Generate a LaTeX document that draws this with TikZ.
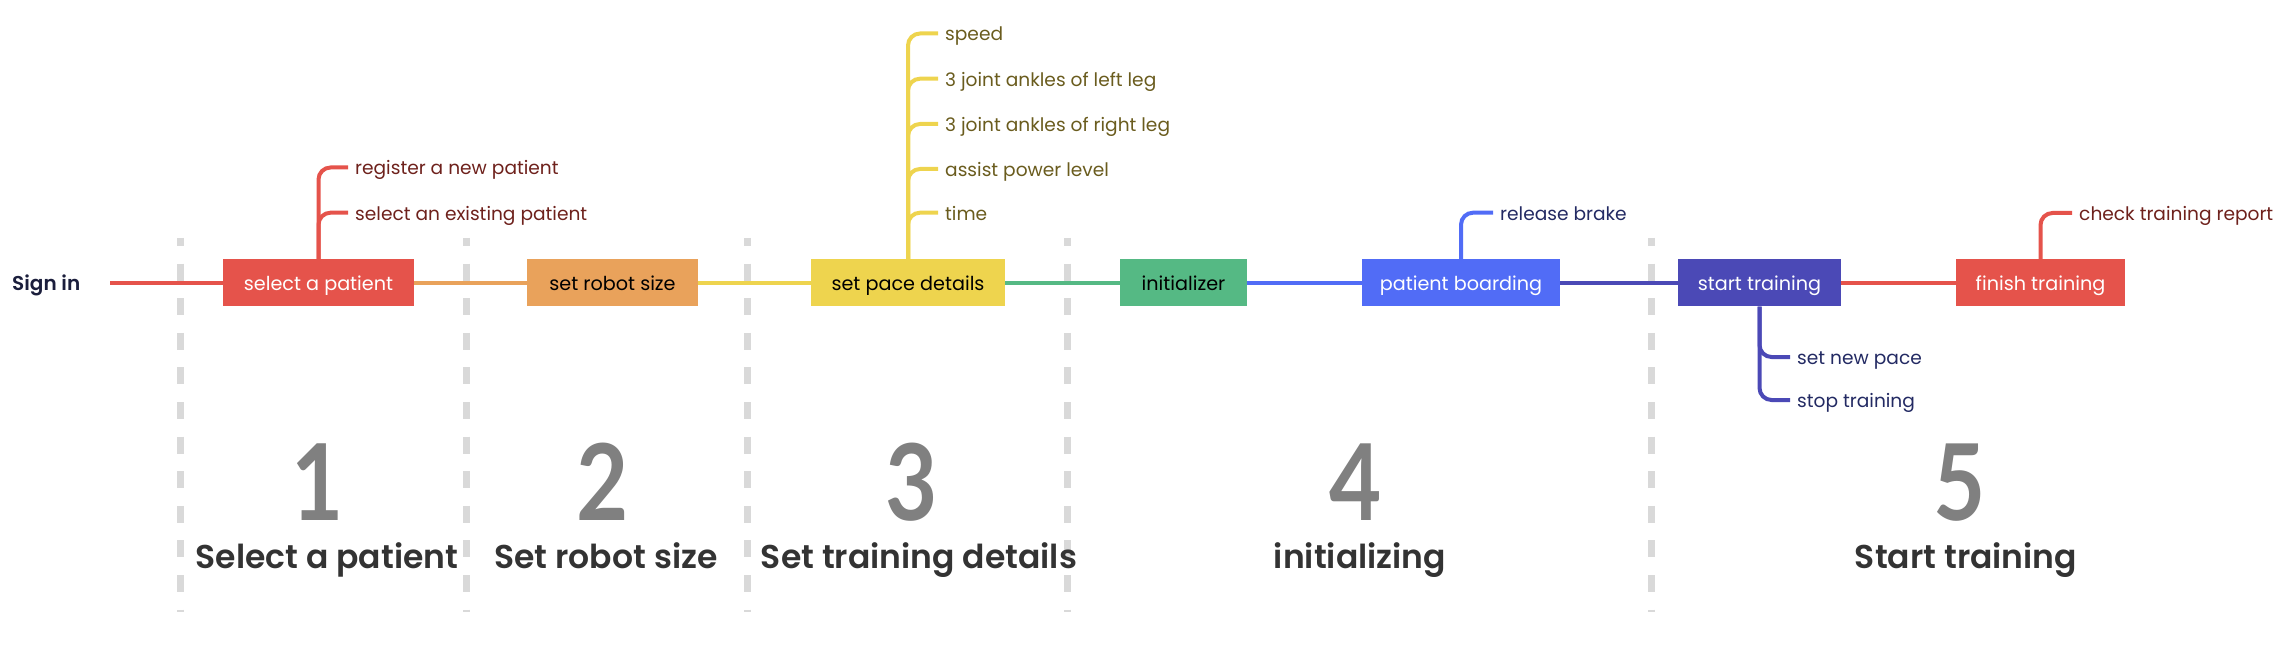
\documentclass[tikz,border=0pt]{standalone}
\usepackage{fontspec}
\setmainfont{Poppins}
\newfontfamily\semib{Poppins}[UprightFont=* SemiBold]
\newfontfamily\numfont{Lato}[UprightFont=* Bold]
\definecolor{cred}{HTML}{E5534B}
\definecolor{corange}{HTML}{E9A25B}
\definecolor{cyellow}{HTML}{EED44E}
\definecolor{cgreen}{HTML}{55B984}
\definecolor{cblue}{HTML}{516CF6}
\definecolor{cindigo}{HTML}{4B49B6}
\definecolor{tred}{HTML}{6E211C}
\definecolor{tyellow}{HTML}{6A5C1E}
\definecolor{tblue}{HTML}{232A63}
\definecolor{dgray}{HTML}{D9D9D9}
\definecolor{numgray}{HTML}{808080}
\definecolor{lblgray}{HTML}{333333}
\definecolor{navy}{HTML}{1B1E3C}
\tikzset{
  box/.style={minimum height=47pt, inner sep=0pt, text height=15pt, text depth=0pt, font=\fontsize{19.2}{23}\selectfont},
  brlabel/.style={anchor=west, inner xsep=7pt, inner ysep=0pt, text height=15pt, text depth=0pt, font=\fontsize{18.6}{22}\selectfont},
  mainline/.style={line width=3.5pt},
  branch/.style={line width=4pt, rounded corners=12pt},
  divider/.style={dgray, line width=7pt, dash pattern=on 17pt off 17.6pt, dash phase=9pt},
  bignum/.style={anchor=base, inner sep=0pt, text=numgray, font=\numfont\fontsize{106}{110}\selectfont},
  phase/.style={anchor=base, inner sep=0pt, text=lblgray, font=\semib\fontsize{33}{40}\selectfont}
}
\begin{document}
\begin{tikzpicture}[x=1pt, y=-1pt]
\useasboundingbox (0,0) rectangle (2284,652);
% dividers
\foreach \xx/\nm in {180/d1, 466/d2, 747/d3, 1067/d4, 1651/d5} {
  \coordinate (\nm t) at (\xx,238);
  \coordinate (\nm b) at (\xx,612);
  \draw[divider] (\nm t) -- (\nm b);
}
% main nodes
\node[anchor=west, inner sep=0pt, text height=15pt, text depth=0pt, text=navy, font=\semib\fontsize{20}{24}\selectfont] (signin) at (12,283) {Sign in};
\coordinate (lstart) at (110,283);
\node[box, fill=cred, text=white, minimum width=191pt] (b1) at (318.5,283) {select a patient};
\node[box, fill=corange, text=black, minimum width=171pt] (b2) at (612.5,283) {set robot size};
\node[box, fill=cyellow, text=black, minimum width=194pt] (b3) at (908,283) {set pace details};
\node[box, fill=cgreen, text=black, minimum width=127pt] (b4) at (1183.5,283) {initializer};
\node[box, fill=cblue, text=white, minimum width=198pt] (b5) at (1461,283) {patient boarding};
\node[box, fill=cindigo, text=white, minimum width=163pt] (b6) at (1759.5,283) {start training};
\node[box, fill=cred, text=white, minimum width=169pt] (b7) at (2040.5,283) {finish training};
% main connectors
\draw[mainline, cred] (lstart) -- (b1.west);
\draw[mainline, corange] (b1.east) -- (b2.west);
\draw[mainline, cyellow] (b2.east) -- (b3.west);
\draw[mainline, cgreen] (b3.east) -- (b4.west);
\draw[mainline, cblue] (b4.east) -- (b5.west);
\draw[mainline, cindigo] (b5.east) -- (b6.west);
\draw[mainline, cred] (b6.east) -- (b7.west);
% branches of select a patient
\node[brlabel, text=tred] (r1) at (348,167.5) {register a new patient};
\node[brlabel, text=tred] (r2) at (348,212.7) {select an existing patient};
\draw[branch, cred] (b1.north) |- (r1.west);
\draw[branch, cred] (b1.north) |- (r2.west);
% branches of set pace details
\node[brlabel, text=tyellow] (y1) at (938,33.5) {speed};
\node[brlabel, text=tyellow] (y2) at (938,78.7) {3 joint ankles of left leg};
\node[brlabel, text=tyellow] (y3) at (938,124) {3 joint ankles of right leg};
\node[brlabel, text=tyellow] (y4) at (938,169) {assist power level};
\node[brlabel, text=tyellow] (y5) at (938,212.7) {time};
\foreach \n in {y1,y2,y3,y4,y5} {\draw[branch, cyellow] (b3.north) |- (\n.west);}
% release brake
\node[brlabel, text=tblue] (rb) at (1493,212.7) {release brake};
\draw[branch, cblue] (b5.north) |- (rb.west);
% start training branches
\node[brlabel, text=tblue] (s1) at (1790,357) {set new pace};
\node[brlabel, text=tblue] (s2) at (1790,400) {stop training};
\draw[branch, cindigo] (b6.south) |- (s1.west);
\draw[branch, cindigo] (b6.south) |- (s2.west);
% finish training branch
\node[brlabel, text=tred] (ct) at (2072,213) {check training report};
\draw[branch, cred] (b7.north) |- (ct.west);
% phase numbers and labels
\node[bignum] (n1) at (318,520) {\scalebox{0.85}[1]{1}};
\node[bignum] (n2) at (603,520) {\scalebox{0.85}[1]{2}};
\node[bignum] (n3) at (912,520) {\scalebox{0.85}[1]{3}};
\node[bignum] (n4) at (1356,520) {\scalebox{0.85}[1]{4}};
\node[bignum] (n5) at (1960,520) {\scalebox{0.85}[1]{5}};
\node[phase] (p1) at (327,568) {Select a patient};
\node[phase] (p2) at (606,568) {Set robot size};
\node[phase] (p3) at (919,568) {Set training details};
\node[phase] (p4) at (1360,568) {initializing};
\node[phase] (p5) at (1966,568) {Start training};
\end{tikzpicture}
\end{document}
